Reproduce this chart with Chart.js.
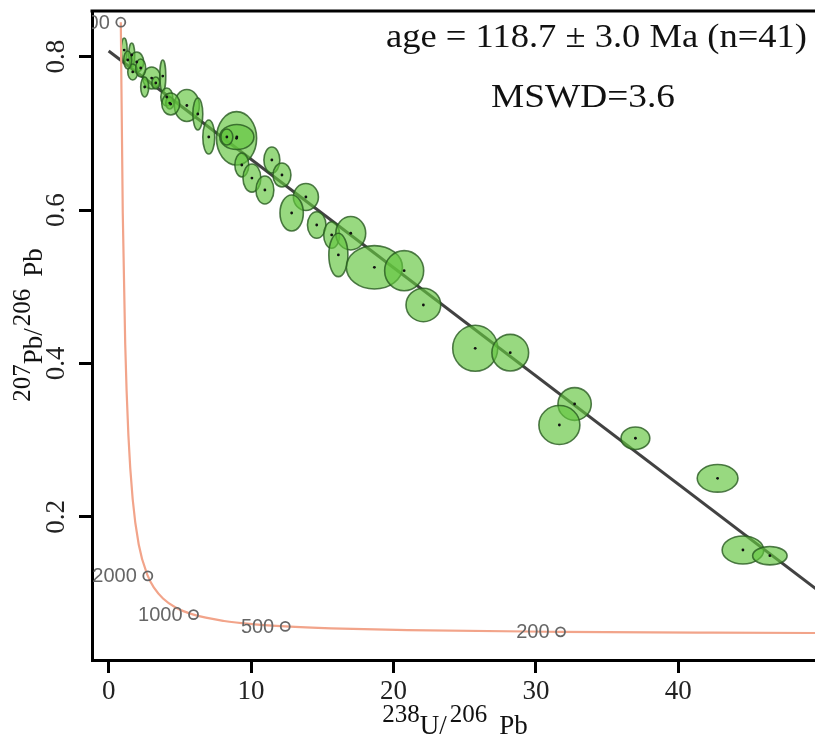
<!DOCTYPE html>
<html><head><meta charset="utf-8">
<script src="https://cdn.jsdelivr.net/npm/chart.js@4.4.1/dist/chart.umd.min.js"></script>
<style>html,body{margin:0;padding:0;background:#fff;}canvas{display:block;}</style>
</head><body>
<canvas id="c" width="815" height="740"></canvas>
<script>
// ---- data ----
const xTicks = [0, 10, 20, 30, 40];
const xTickLabels = ['0', '10', '20', '30', '40'];
const yTicks = [0.2, 0.4, 0.6, 0.8];
const yTickLabels = ['0.2', '0.4', '0.6', '0.8'];

// Concordia curve (238U/206Pb, 207Pb/206Pb)
const concX = [0.853, 0.990, 1.163, 1.387, 1.687, 2.111, 2.749, 3.206, 3.817, 4.673, 5.959, 8.105, 10.25, 12.40, 15.62, 20.99, 31.73, 42.48, 53.22];
const concY = [0.845, 0.597, 0.425, 0.306, 0.223, 0.164, 0.123, 0.107, 0.0936, 0.0822, 0.0725, 0.0643, 0.0599, 0.0572, 0.0547, 0.0523, 0.0501, 0.0490, 0.0484];

// Age markers on the concordia
const ageLabels = ['5000', '2000', '1000', '500', '200'];
const ageX = [0.853, 2.749, 5.959, 12.40, 31.73];
const ageY = [0.845, 0.123, 0.0725, 0.0572, 0.0501];

// Discordia (regression) line end points
const discX = [0.0, 53.8];
const discY = [0.8075, 0.0478];

// Error ellipses: centres and semi-axes (data units)
const ellX  = [1.09, 1.62, 1.97, 1.69, 3.02, 2.53, 3.80, 3.31, 4.08, 4.29, 5.49, 4.36, 6.26, 7.03, 8.98, 9.00, 8.30, 9.35, 10.06, 10.97, 11.46, 12.17, 13.85, 12.85, 14.61, 15.66, 17.00, 16.13, 18.66, 20.75, 22.10, 25.74, 28.20, 32.72, 31.65, 36.99, 42.76, 44.54, 46.43, 1.34, 2.25];
const ellY  = [0.8087, 0.8022, 0.7931, 0.7801, 0.7722, 0.7605, 0.7748, 0.7657, 0.7475, 0.7396, 0.7364, 0.7383, 0.7253, 0.6953, 0.6936, 0.6953, 0.6953, 0.6588, 0.6418, 0.6262, 0.6653, 0.6458, 0.6171, 0.5962, 0.5806, 0.5676, 0.5698, 0.5415, 0.5254, 0.5210, 0.4763, 0.4198, 0.4141, 0.3472, 0.3198, 0.3025, 0.2503, 0.1568, 0.1494, 0.7957, 0.7853];
const ellRX = [0.21, 0.21, 0.49, 0.35, 0.63, 0.28, 0.21, 0.28, 0.42, 0.28, 0.88, 0.63, 0.35, 0.42, 1.41, 1.20, 0.42, 0.49, 0.63, 0.63, 0.56, 0.63, 0.88, 0.82, 0.65, 0.56, 1.05, 0.67, 1.97, 1.37, 1.22, 1.58, 1.29, 1.17, 1.44, 1.01, 1.43, 1.46, 1.21, 0.28, 0.35];
const ellRY = [0.0156, 0.0156, 0.0130, 0.0104, 0.0143, 0.0130, 0.0209, 0.0078, 0.0117, 0.0078, 0.0209, 0.0143, 0.0209, 0.0222, 0.0348, 0.0163, 0.0104, 0.0156, 0.0183, 0.0183, 0.0170, 0.0156, 0.0176, 0.0235, 0.0173, 0.0173, 0.0218, 0.0283, 0.0283, 0.0261, 0.0218, 0.0300, 0.0239, 0.0213, 0.0254, 0.0147, 0.0180, 0.0183, 0.0120, 0.0117, 0.0117];

const ageText = 'age = 118.7 ± 3.0 Ma (n=41)';
const mswdText = 'MSWD=3.6';

// ---- drawing ----
const SERIF = '"Liberation Serif", "Times New Roman", serif';
const SANS = '"Liberation Sans", Arial, sans-serif';

function clipArea(chart) {
  const a = chart.chartArea, ctx = chart.ctx;
  ctx.beginPath();
  ctx.rect(a.left, a.top, a.right - a.left, a.bottom - a.top);
  ctx.clip();
}

const ellipsePlugin = {
  id: 'ellipses',
  afterDatasetDraw(chart, args) {
    const ds = chart.data.datasets[args.index];
    if (ds.label !== 'discordia') return;
    const ctx = chart.ctx, x = chart.scales.x, y = chart.scales.y;
    ctx.save();
    clipArea(chart);
    for (let i = 0; i < ellX.length; i++) {
      const cx = x.getPixelForValue(ellX[i]);
      const cy = y.getPixelForValue(ellY[i]);
      const rx = Math.abs(x.getPixelForValue(ellX[i] + ellRX[i]) - cx);
      const ry = Math.abs(y.getPixelForValue(ellY[i] + ellRY[i]) - cy);
      ctx.beginPath();
      ctx.ellipse(cx, cy, rx, ry, 0, 0, Math.PI * 2);
      ctx.fillStyle = 'rgba(98,198,62,0.66)';
      ctx.fill();
      ctx.lineWidth = 1.6;
      ctx.strokeStyle = 'rgba(40,90,32,0.8)';
      ctx.stroke();
    }
    ctx.restore();
  }
};

// parts: [text, isNumber, gapAfter]
function drawMixed(ctx, parts, cx, base, raise) {
  const fontFor = p => (p[1] ? '25px ' : '27px ') + SERIF;
  let total = 0;
  const widths = parts.map(p => {
    ctx.font = fontFor(p);
    const w = ctx.measureText(p[0]).width + (p[2] || 0);
    total += w;
    return w;
  });
  let xx = cx - total / 2;
  ctx.textAlign = 'left';
  ctx.textBaseline = 'alphabetic';
  parts.forEach((p, i) => {
    ctx.font = fontFor(p);
    ctx.fillText(p[0], xx, p[1] ? base - raise : base);
    xx += widths[i];
  });
}

function stretchedText(ctx, text, x, y, targetW, align) {
  const w = ctx.measureText(text).width;
  const sx = targetW / w;
  ctx.save();
  ctx.translate(x, y);
  ctx.scale(sx, 1);
  ctx.textAlign = align;
  ctx.fillText(text, 0, 0);
  ctx.restore();
}

const textPlugin = {
  id: 'texts',
  afterDatasetsDraw(chart) {
    const ctx = chart.ctx, x = chart.scales.x, y = chart.scales.y, a = chart.chartArea;
    // age labels on concordia
    ctx.save();
    clipArea(chart);
    ctx.font = '20px ' + SANS;
    ctx.fillStyle = '#666';
    ctx.textAlign = 'right';
    ctx.textBaseline = 'middle';
    for (let i = 0; i < ageLabels.length; i++) {
      ctx.fillText(ageLabels[i], x.getPixelForValue(ageX[i]) - 11, y.getPixelForValue(ageY[i]) + 1);
    }
    ctx.restore();

    ctx.save();
    // frame top line
    ctx.strokeStyle = '#000';
    ctx.lineWidth = 3;
    ctx.beginPath();
    ctx.moveTo(a.left - 1.5, a.top);
    ctx.lineTo(a.right, a.top);
    ctx.stroke();

    // annotations
    ctx.fillStyle = '#111';
    ctx.font = '33px ' + SERIF;
    ctx.textBaseline = 'alphabetic';
    stretchedText(ctx, ageText, 807, 47, 421, 'right');
    stretchedText(ctx, mswdText, 583, 107, 184, 'center');

    // y tick labels (rotated)
    ctx.font = '27px ' + SERIF;
    ctx.fillStyle = '#222';
    ctx.textAlign = 'center';
    ctx.textBaseline = 'middle';
    y.ticks.forEach((t, i) => {
      ctx.save();
      ctx.translate(57, y.getPixelForValue(t.value));
      ctx.rotate(-Math.PI / 2);
      ctx.fillText(yTickLabels[i], 0, 0);
      ctx.restore();
    });

    // axis titles
    ctx.fillStyle = '#111';
    drawMixed(ctx, [['238', true, 0], ['U/', false, 3], ['206', true, 12], ['Pb', false, 0]], 455, 734, 12);
    ctx.save();
    ctx.translate(42, 325);
    ctx.rotate(-Math.PI / 2);
    drawMixed(ctx, [['207', true, 0], ['Pb/', false, 2], ['206', true, 12], ['Pb', false, 0]], 0, 0, 12);
    ctx.restore();
    ctx.restore();
  }
};

const pts = (xs, ys) => xs.map((v, i) => ({ x: v, y: ys[i] }));

new Chart(document.getElementById('c'), {
  type: 'scatter',
  data: {
    datasets: [
      { label: 'centers', data: pts(ellX, ellY), pointRadius: 1.4, pointBackgroundColor: '#111', pointBorderWidth: 0, order: 1 },
      { label: 'ages', data: pts(ageX, ageY), pointRadius: 4.5, pointBorderColor: '#666', pointBorderWidth: 1.8, pointBackgroundColor: 'rgba(255,255,255,0)', order: 2 },
      { label: 'concordia', data: pts(concX, concY), showLine: true, pointRadius: 0, borderColor: '#f2a48a', borderWidth: 2.2, cubicInterpolationMode: 'monotone', order: 3 },
      { label: 'discordia', data: pts(discX, discY), showLine: true, pointRadius: 0, borderColor: 'rgba(45,45,45,0.9)', borderWidth: 3, order: 4 }
    ]
  },
  options: {
    responsive: false,
    animation: false,
    events: [],
    layout: { autoPadding: false, padding: { top: 11, left: 0, right: 0, bottom: 0 } },
    plugins: { legend: { display: false }, tooltip: { enabled: false } },
    scales: {
      x: {
        type: 'linear', min: -1.17, max: 49.6,
        afterFit(s) { s.height = 80; s.paddingLeft = 0; s.paddingRight = 0; },
        afterBuildTicks(s) { s.ticks = xTicks.map(v => ({ value: v })); },
        grid: { drawOnChartArea: false, drawTicks: true, tickLength: 13, tickWidth: 3, tickColor: '#000' },
        border: { display: true, color: '#000', width: 3 },
        ticks: { font: { family: SERIF, size: 27 }, color: '#222', padding: 3, maxRotation: 0,
                 callback: (v) => xTickLabels[xTicks.indexOf(v)] }
      },
      y: {
        type: 'linear', min: 0.0134, max: 0.8596,
        afterFit(s) { s.width = 92; s.paddingTop = 0; s.paddingBottom = 0; },
        afterBuildTicks(s) { s.ticks = yTicks.map(v => ({ value: v })); },
        grid: { drawOnChartArea: false, drawTicks: true, tickLength: 13, tickWidth: 3, tickColor: '#000' },
        border: { display: true, color: '#000', width: 3 },
        ticks: { color: 'rgba(0,0,0,0)', font: { family: SERIF, size: 27 } }
      }
    }
  },
  plugins: [ellipsePlugin, textPlugin]
});
</script>
</body></html>
